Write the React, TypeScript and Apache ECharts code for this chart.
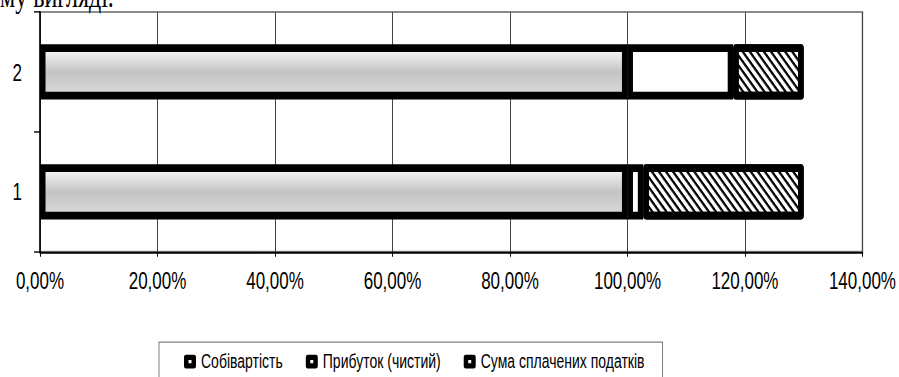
import React, { useEffect, useRef } from "react";
import * as echarts from "echarts";

// ---- data ----
const categories: string[] = ["1", "2"];
const seriesNames: string[] = ["Собівартість", "Прибуток (чистий)", "Сума сплачених податків"];
const costValues: number[] = [100, 100];
const profitValues: number[] = [2.7, 18];
const taxValues: number[] = [27.3, 12];
const xMin = 0;
const xMax = 140;
const xInterval = 20;
const topText = "му вигляді.";

const CHART_H = 270;
const SCALE_Y = 377 / CHART_H;

const LEGEND_ICON =
  "path://M2,0 H10 A2,2 0 0 1 12,2 V8 A2,2 0 0 1 10,10 H2 A2,2 0 0 1 0,8 V2 A2,2 0 0 1 2,0 Z M4.5,3.8 V6.2 H7.5 V3.8 Z";

export default function App() {
  const ref = useRef<HTMLDivElement | null>(null);

  useEffect(() => {
    if (!ref.current) return;
    const chart = echarts.init(ref.current, undefined, { renderer: "svg" });
    const font = "'Liberation Sans', Arial, sans-serif";
    const gradient = new echarts.graphic.LinearGradient(0, 0, 0, 1, [
      { offset: 0, color: "#fbfbfb" },
      { offset: 0.5, color: "#c4c4c4" },
      { offset: 1, color: "#dadada" },
    ]);
    const option: any = {
      animation: false,
      backgroundColor: "#ffffff",
      textStyle: { fontFamily: font },
      graphic: [
        {
          type: "text",
          left: 0,
          top: -15.5,
          style: {
            text: topText,
            font: "24px 'Liberation Serif', 'Times New Roman', serif",
            fill: "#000",
          },
        },
      ],
      grid: {
        left: 40,
        right: 36.5,
        top: 8.6,
        bottom: 89.7,
        show: true,
        borderColor: "#8c8c8c",
        borderWidth: 1.5,
        backgroundColor: "transparent",
      },
      legend: {
        data: seriesNames,
        left: 159,
        top: 245,
        orient: "horizontal",
        icon: LEGEND_ICON,
        itemWidth: 12,
        itemHeight: 10,
        itemGap: 23,
        padding: [7, 18, 30, 25],
        borderColor: "#808080",
        borderWidth: 1,
        itemStyle: { color: "#000", borderWidth: 0, decal: "none" },
        textStyle: { fontSize: 14, color: "#000", fontFamily: font },
      },
      xAxis: {
        type: "value",
        min: xMin,
        max: xMax,
        interval: xInterval,
        axisLine: { show: true, lineStyle: { color: "#000", width: 1.5 } },
        axisTick: { show: true, length: 3.6, lineStyle: { color: "#000" } },
        splitLine: { show: true, lineStyle: { color: "#444", width: 1 } },
        axisLabel: {
          fontSize: 17,
          color: "#000",
          margin: 12,
          fontFamily: font,
          formatter: (v: number) => v.toFixed(2).replace(".", ",") + "%",
        },
      },
      yAxis: {
        type: "category",
        data: categories,
        axisLine: { show: true, lineStyle: { color: "#000", width: 1.5 } },
        axisTick: { show: true, length: 6, lineStyle: { color: "#000" } },
        splitLine: { show: false },
        axisLabel: { fontSize: 17, color: "#000", margin: 18, fontFamily: font },
      },
      series: [
        {
          name: seriesNames[0],
          type: "bar",
          stack: "total",
          barWidth: "46%",
          data: costValues,
          itemStyle: { color: gradient, borderColor: "#000", borderWidth: 5.5 },
        },
        {
          name: seriesNames[1],
          type: "bar",
          stack: "total",
          barWidth: "46%",
          data: profitValues,
          itemStyle: { color: "#ffffff", borderColor: "#000", borderWidth: 5.5 },
        },
        {
          name: seriesNames[2],
          type: "bar",
          stack: "total",
          barWidth: "46%",
          data: taxValues,
          itemStyle: {
            color: "#ffffff",
            borderColor: "#000",
            borderWidth: 5.5,
            borderJoin: "round",
            decal: {
              symbol: "rect",
              symbolSize: 1,
              color: "#000",
              backgroundColor: "#fff",
              dashArrayX: [1, 0],
              dashArrayY: [2, 2.6],
              rotation: Math.PI / 4,
            },
          },
        },
      ],
    };
    chart.setOption(option);
    return () => chart.dispose();
  }, []);

  return (
    <div
      style={{
        position: "fixed",
        left: 0,
        top: 0,
        width: 899,
        height: 377,
        overflow: "hidden",
        background: "#fff",
      }}
    >
      <div
        ref={ref}
        style={{
          width: 899,
          height: CHART_H,
          transform: `scaleY(${SCALE_Y})`,
          transformOrigin: "0 0",
        }}
      />
    </div>
  );
}
